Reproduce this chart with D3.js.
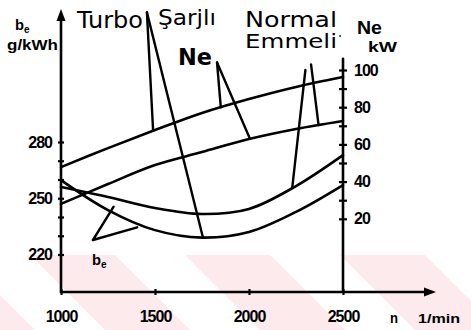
<!DOCTYPE html>
<html>
<head>
<meta charset="utf-8">
<script src="https://cdn.jsdelivr.net/npm/d3@7"></script>
<style>
  body { margin: 0; background: #fff; }
  .hand { font-family: "DejaVu Sans", sans-serif; fill: #000; }
  .tick text { font-family: "Liberation Sans", Arial, sans-serif; font-weight: bold; font-size: 16px; letter-spacing: -1px; fill: #000; }
  .unit { font-family: "Liberation Sans", Arial, sans-serif; font-weight: bold; fill: #000; }
</style>
</head>
<body>
<svg width="471" height="330"></svg>
<script>
// engine speed n (1/min)
var rpm = [1000, 1250, 1500, 1750, 2000, 2250, 2500];

// power Ne (kW)
var neTurbo  = [47.8, 58.0, 67.7, 76.9, 84.4, 90.9, 96.2];
var neNormal = [28.0, 38.7, 48.9, 55.9, 62.9, 68.3, 72.6];

// specific consumption be (g/kWh)
var beNormal = [256.0, 250.7, 244.8, 241.6, 244.3, 256.5, 273.0];
var beTurbo  = [259.7, 243.7, 233.0, 229.0, 232.0, 242.7, 257.0];

var rpmTicks = [1000, 1500, 2000, 2500];
var beTicks = [220, 250, 280];
var neTicks = [20, 40, 60, 80, 100];

var svg = d3.select("svg"),
    width = +svg.attr("width"),
    height = +svg.attr("height");

var x = d3.scaleLinear().domain([1000, 2500]).range([61, 343]);
var yBe = d3.scaleLinear().domain([200, 280]).range([292, 142]);
var yNe = d3.scaleLinear().domain([0, 100]).range([256, 70]);

svg.append("rect").attr("width", width).attr("height", height).attr("fill", "#fff");

// faint watermark stripes at the bottom
var wm = svg.append("g");
wm.append("clipPath").attr("id", "wmclip")
    .append("rect").attr("x", 0).attr("y", 255).attr("width", width).attr("height", 75);
var stripes = wm.append("g").attr("clip-path", "url(#wmclip)");
d3.range(-2, 5).forEach((k) => {
    let x0 = 30 + k * 155;
    stripes.append("polygon")
        .attr("points", [[x0, 255], [x0 + 85, 255], [x0 + 85 + 80, 335], [x0 + 80, 335]].join(" "))
        .attr("fill", "#fdeaec");
});

// interpolate a series at a given speed
function at (series, n) {
    return d3.scaleLinear().domain(rpm).range(series)(n);
}

var line = (yScale) => d3.line()
    .x((d, i) => x(rpm[i]))
    .y((d) => yScale(d))
    .curve(d3.curveCatmullRom.alpha(0.5));

var curves = [
    { values: neTurbo, y: yNe },
    { values: neNormal, y: yNe },
    { values: beNormal, y: yBe },
    { values: beTurbo, y: yBe }
];

svg.selectAll(".curve")
    .data(curves)
    .enter().append("path")
    .attr("class", "curve")
    .attr("d", (c) => line(c.y)(c.values))
    .attr("fill", "none")
    .attr("stroke", "#000")
    .attr("stroke-width", 2.6)
    .attr("stroke-linecap", "round");

// pointer lines from the labels to the curves
var pointers = [
    { from: [1457, 131], to: [1490, at(neTurbo, 1490)], y: yNe },
    { from: [1457, 131], to: [1755, at(beTurbo, 1755)], y: yNe, toY: yBe },
    { from: [1830, 104], to: [1850, at(neTurbo, 1850)], y: yNe },
    { from: [1830, 104], to: [2005, at(neNormal, 2005)], y: yNe },
    { from: [2300, 100], to: [2230, at(beNormal, 2230)], y: yNe, toY: yBe },
    { from: [2330, 103], to: [2370, at(neNormal, 2370)], y: yNe },
    { from: [1170, 8.6], to: [1280, 245.5], y: yNe, toY: yBe },
    { from: [1170, 8.6], to: [1405, 234.5], y: yNe, toY: yBe }
];

svg.selectAll(".pointer")
    .data(pointers)
    .enter().append("line")
    .attr("class", "pointer")
    .attr("x1", (p) => x(p.from[0]))
    .attr("y1", (p) => p.y(p.from[1]))
    .attr("x2", (p) => x(p.to[0]))
    .attr("y2", (p) => (p.toY || p.y)(p.to[1]))
    .attr("stroke", "#000")
    .attr("stroke-width", 2.4)
    .attr("stroke-linecap", "round");

// axes
var axisLeft = svg.append("g")
    .attr("transform", `translate(${x(1000)},0)`)
    .call(d3.axisLeft(yBe)
        .tickValues(d3.range(220, 281, 10))
        .tickSize(3).tickPadding(6)
        .tickFormat((d) => beTicks.includes(d) ? String(d) : ""));
axisLeft.select(".domain").remove();
axisLeft.selectAll(".tick line").attr("x1", -3).attr("x2", 3).attr("stroke-width", 2.2);

var axisRight = svg.append("g")
    .attr("transform", `translate(${x(2500)},0)`)
    .call(d3.axisRight(yNe)
        .tickValues(d3.range(20, 101, 10))
        .tickSize(3).tickPadding(8)
        .tickFormat((d) => neTicks.includes(d) ? String(d) : ""));
axisRight.select(".domain").remove();
axisRight.selectAll(".tick line").attr("x1", -4).attr("x2", 4).attr("stroke-width", 2.2);

var axisBottom = svg.append("g")
    .attr("transform", `translate(0,${yBe(200)})`)
    .call(d3.axisBottom(x)
        .tickValues(rpmTicks)
        .tickSize(3).tickPadding(19)
        .tickFormat(d3.format("d")));
axisBottom.select(".domain").remove();
axisBottom.selectAll(".tick line").attr("y1", -3).attr("y2", 3).attr("stroke-width", 2.2);
axisBottom.selectAll(".tick text").attr("dy", "0.5em");

var axisStroke = { stroke: "#000", "stroke-width": 2.6, "stroke-linecap": "round" };
function axisLine (x1, y1, x2, y2) {
    let l = svg.append("line").attr("x1", x1).attr("y1", y1).attr("x2", x2).attr("y2", y2);
    Object.keys(axisStroke).forEach((k) => l.attr(k, axisStroke[k]));
}
axisLine(x(1000), yBe(200), x(1000), 18);
axisLine(x(1000), yBe(200), 428, yBe(200));
axisLine(x(2500), yBe(200), x(2500), yNe(106));

svg.append("polygon")
    .attr("points", [[x(1000), 9], [x(1000) - 4.5, 21], [x(1000) + 4.5, 21]].join(" "))
    .attr("fill", "#000");
svg.append("polygon")
    .attr("points", [[436, yBe(200)], [424, yBe(200) - 4.5], [424, yBe(200) + 4.5]].join(" "))
    .attr("fill", "#000");

// handwritten labels
function hand (txt, px, py, size, len, weight) {
    svg.append("text")
        .attr("class", "hand")
        .attr("x", px).attr("y", py)
        .attr("font-size", size)
        .attr("font-weight", weight || "normal")
        .attr("textLength", len)
        .attr("lengthAdjust", "spacingAndGlyphs")
        .text(txt);
}
hand("Turbo", 77, 28, 23, 66);
hand("Şarjlı", 158, 25, 22, 58);
hand("Ne", 178, 65, 23, 34, "bold");
hand("Normal", 245, 27, 22, 92);
hand("Emmeli", 245, 48, 19, 92);
hand("·", 338, 42, 16, 4);

function unit (txt, px, py, size, len) {
    return svg.append("text")
        .attr("class", "unit")
        .attr("x", px).attr("y", py)
        .attr("font-size", size)
        .attr("textLength", len)
        .attr("lengthAdjust", "spacingAndGlyphs")
        .text(txt);
}
unit("b", 15, 30, 15, 9);
svg.append("text").attr("class", "unit").attr("x", 24).attr("y", 33).attr("font-size", 10).text("e");
unit("g/kWh", 7, 50, 14, 51);
unit("Ne", 357, 34, 18, 25);
unit("kW", 368, 52, 14, 29);
unit("b", 92, 265, 15, 9);
svg.append("text").attr("class", "unit").attr("x", 101).attr("y", 268).attr("font-size", 10).text("e");
unit("n", 390, 323, 14, 8);
unit("1/min", 418, 323, 13, 42);
</script>
</body>
</html>
